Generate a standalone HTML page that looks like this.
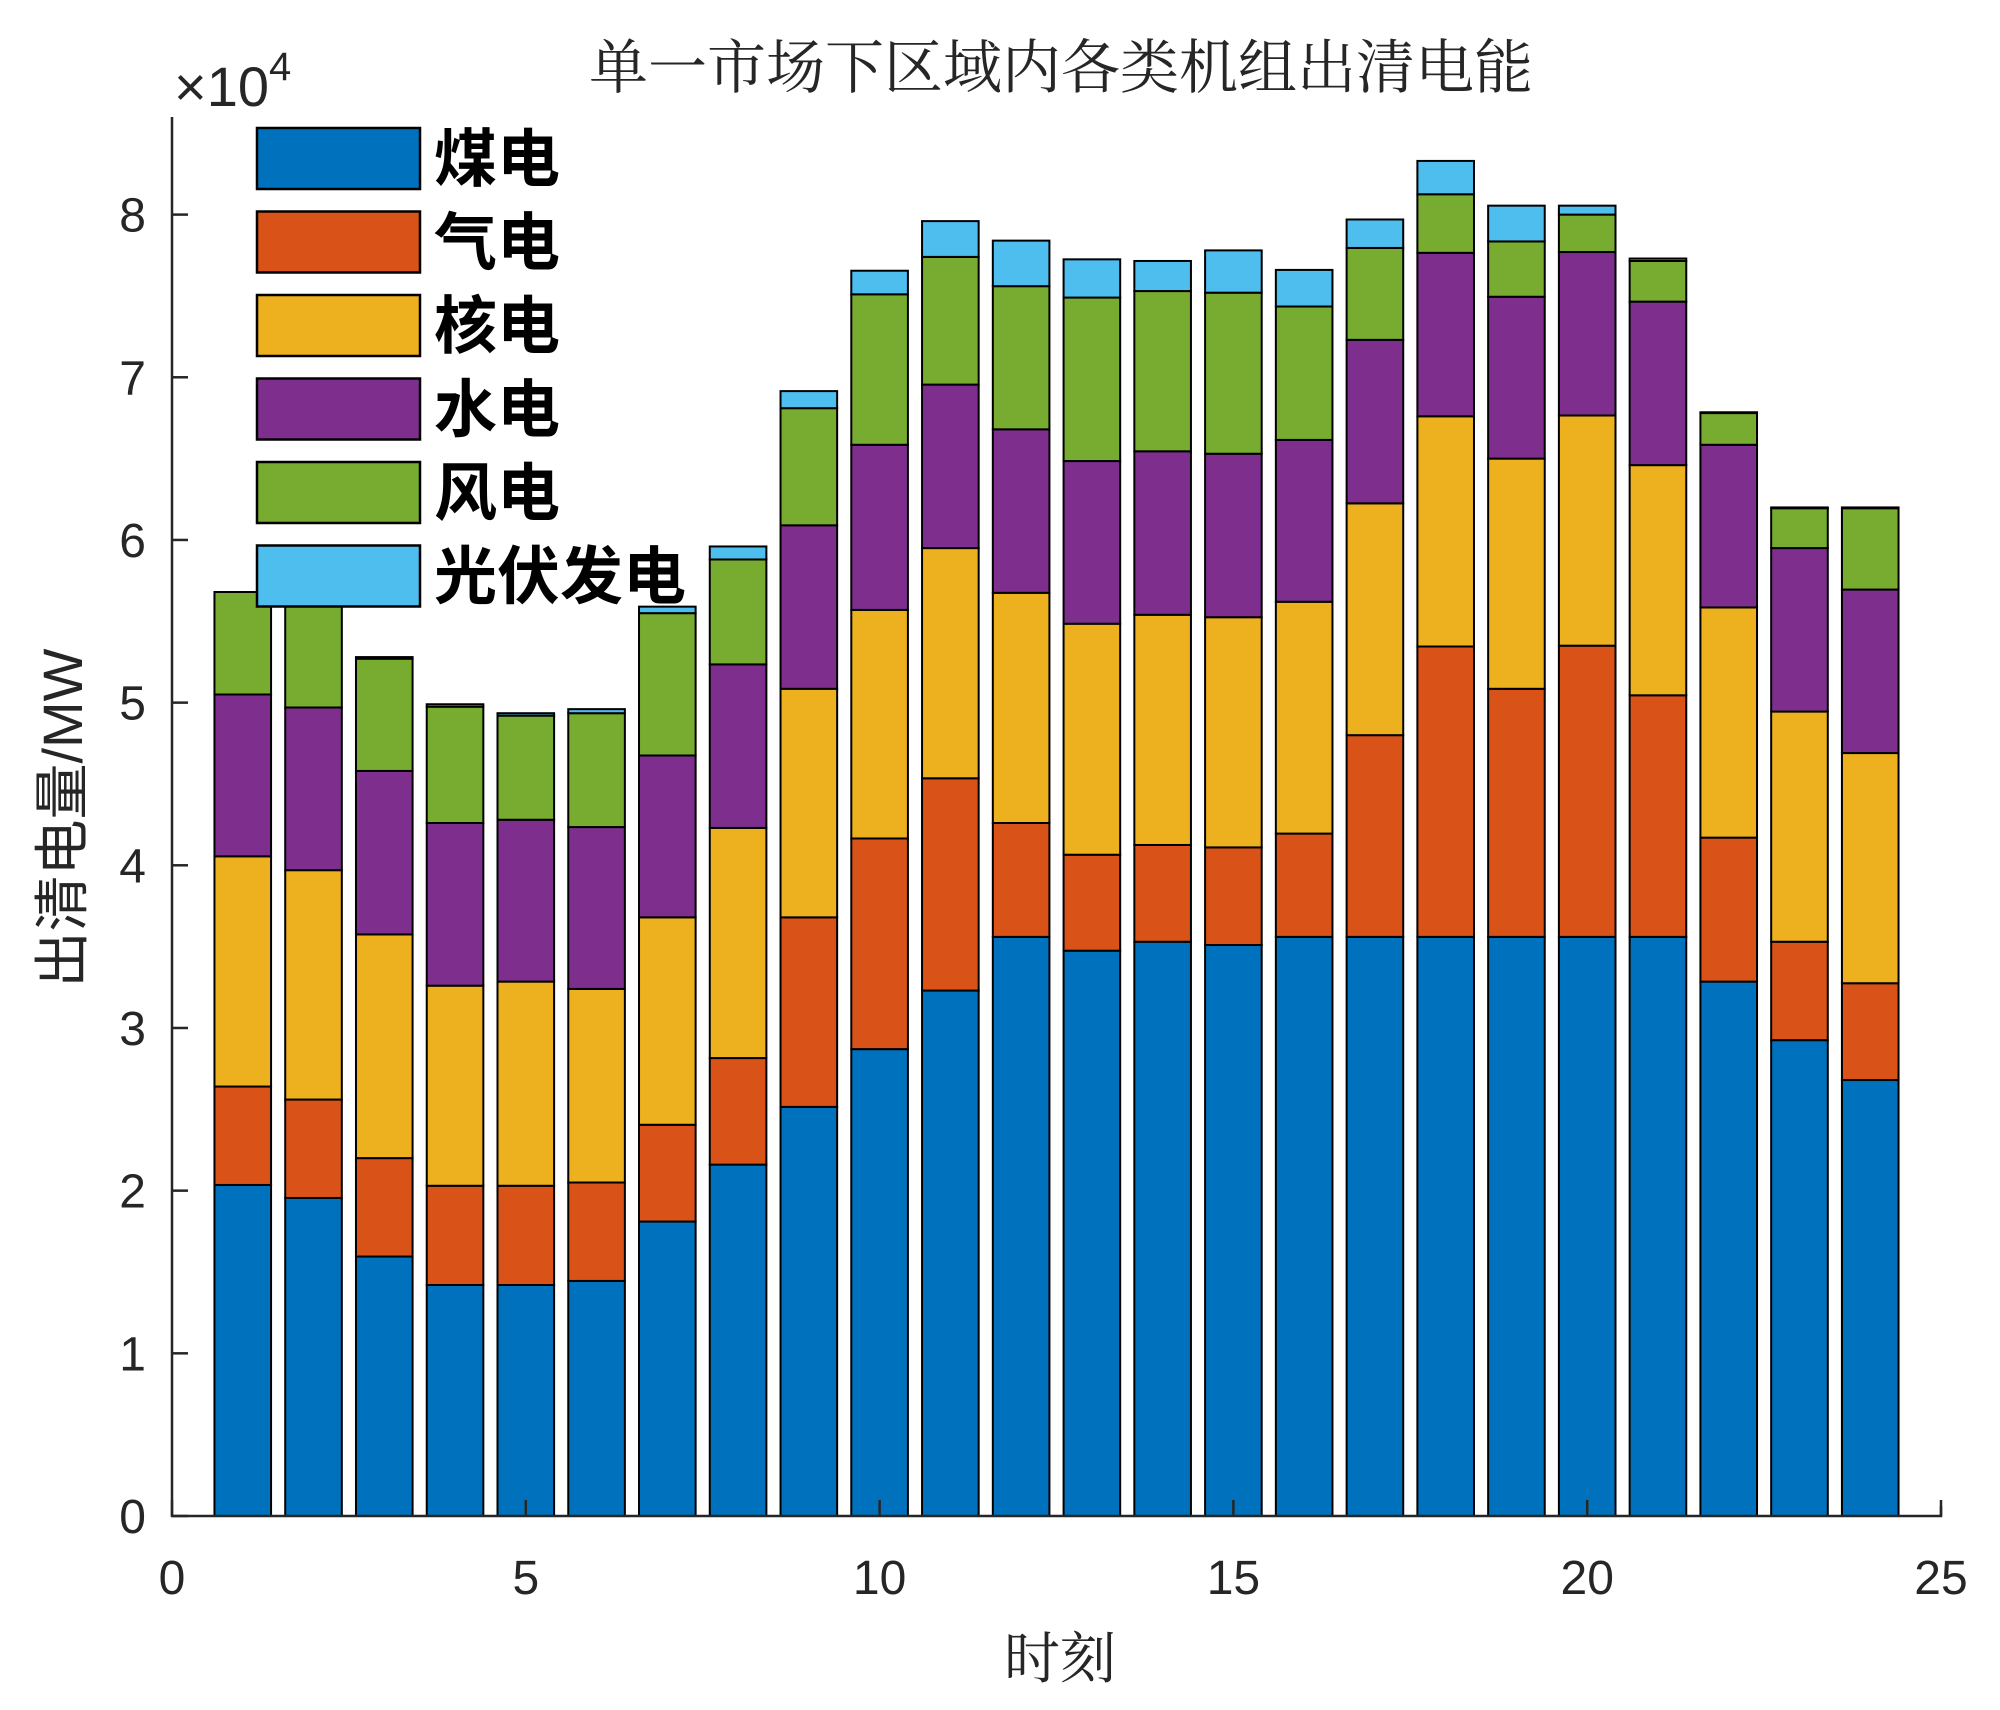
<!DOCTYPE html>
<html><head><meta charset="utf-8"><style>
body{margin:0;background:#fff}
svg text{font-family:"Liberation Sans","Noto Sans CJK SC",sans-serif}
</style></head><body>
<svg id="chart" width="2000" height="1705" viewBox="0 0 2000 1705" xmlns="http://www.w3.org/2000/svg">
<rect width="2000" height="1705" fill="#fff"/>
<g id="bars"></g>
<g id="axes"></g>
<g id="legend"></g>
</svg>
<script>
const hours = [1,2,3,4,5,6,7,8,9,10,11,12,13,14,15,16,17,18,19,20,21,22,23,24];
const coal = [20350,19550,15950,14200,14200,14450,18100,21600,25150,28700,32300,35600,34750,35300,35100,35600,35600,35600,35600,35600,35600,32850,29250,26800];
const gas = [6050,6050,6050,6100,6100,6050,5950,6550,11650,12950,13050,7000,5900,5950,6000,6350,12400,17850,15250,17900,14850,8850,6050,5950];
const nuclear = [14150,14100,13750,12300,12550,11900,12750,14150,14050,14050,14150,14150,14200,14150,14150,14250,14250,14150,14150,14150,14150,14150,14150,14150];
const hydro = [9950,10000,10050,10000,9950,9950,9950,10050,10050,10150,10050,10050,10000,10050,10050,9950,10050,10050,9950,10050,10050,10000,10050,10050];
const wind = [6300,7500,6900,7150,6400,7000,8750,6450,7200,9250,7850,8800,10050,9850,9900,8200,5650,3600,3400,2300,2500,1950,2450,5000];
const solar = [0,200,100,150,150,250,400,800,1050,1450,2200,2800,2350,1850,2600,2250,1750,2050,2200,550,150,50,50,50];
const seriesNames = ["煤电","气电","核电","水电","风电","光伏发电"];
const xTicks = [0,5,10,15,20,25];
const yTicks = [0,1,2,3,4,5,6,7,8];
const colors = ["#0072BD","#D95319","#EDB120","#7E2F8E","#77AC30","#4DBEEE"];
const seriesKeys = ["coal","gas","nuclear","hydro","wind","solar"];

const X0=172, X1=1941, Y0=1516, YT=117, XMAX=25, YMAX=86000;
const xs = v => X0 + v/XMAX*(X1-X0);
const ys = v => Y0 - v/YMAX*(Y0-YT);
const NS="http://www.w3.org/2000/svg";
function mk(tag, attrs, parent){const e=document.createElementNS(NS,tag);for(const k in attrs)e.setAttribute(k,attrs[k]);parent.appendChild(e);return e;}
const bars=document.getElementById('bars'), axes=document.getElementById('axes'), legend=document.getElementById('legend');
const all=[coal,gas,nuclear,hydro,wind,solar];
const bw = 0.8*(xs(1)-xs(0));
hours.forEach((h,i)=>{
  let base=0;
  all.forEach((s,j)=>{
    const v=s[i];
    const r=mk('rect',{x:xs(h)-bw/2,y:ys(base+v),width:bw,height:ys(base)-ys(base+v),fill:colors[j],stroke:"#000","stroke-width":2},bars);
    
    
    base+=v;
  });
});
const al=mk('path',{d:`M${X0},${YT}V${Y0}H${X1}V${Y0-10}`,fill:"none",stroke:"#262626","stroke-width":2.5},axes);


yTicks.forEach(t=>{
  const y=ys(t*10000);
  mk('line',{x1:X0,x2:X0+16,y1:y,y2:y,stroke:"#262626","stroke-width":2.5},axes);
  const tx=mk('text',{x:146,y:y+17,"text-anchor":"end","font-size":48,fill:"#262626"},axes);
  tx.textContent=t;
  
  
});
xTicks.forEach(t=>{
  const x=xs(t);
  mk('line',{x1:x,x2:x,y1:Y0,y2:Y0-16,stroke:"#262626","stroke-width":2.5},axes);
  const tx=mk('text',{x:x,y:1594,"text-anchor":"middle","font-size":48,fill:"#262626"},axes);
  tx.textContent=t;
  
  
});
seriesNames.forEach((n,j)=>{
  const y=128+j*83.5;
  const r=mk('rect',{x:257,y:y,width:163,height:61,fill:colors[j],stroke:"#000","stroke-width":2.5},legend);
  
  
  const t=mk('text',{x:434,y:y+53,"font-size":63,"font-weight":"bold",fill:"#000"},legend);
  t.textContent=n;
  
  
});
</script>
<svg style="position:absolute;left:0;top:0" width="2000" height="1705">
<text x="1061" y="88" text-anchor="middle" font-size="59" fill="#262626" style="font-family:'Liberation Serif','Noto Serif CJK SC',serif">单一市场下区域内各类机组出清电能</text>
<text x="174" y="106" font-size="56" fill="#262626" style="font-family:'Liberation Sans',sans-serif">×10<tspan dy="-26" font-size="40">4</tspan></text>
<text x="1060" y="1678" text-anchor="middle" font-size="56" fill="#262626" style="font-family:'Liberation Serif','Noto Serif CJK SC',serif">时刻</text>
<text transform="translate(82,818) rotate(-90)" text-anchor="middle" font-size="56" fill="#262626" style="font-family:'Liberation Sans','Noto Sans CJK SC',sans-serif">出清电量/MW</text>
</svg>
</body></html>
